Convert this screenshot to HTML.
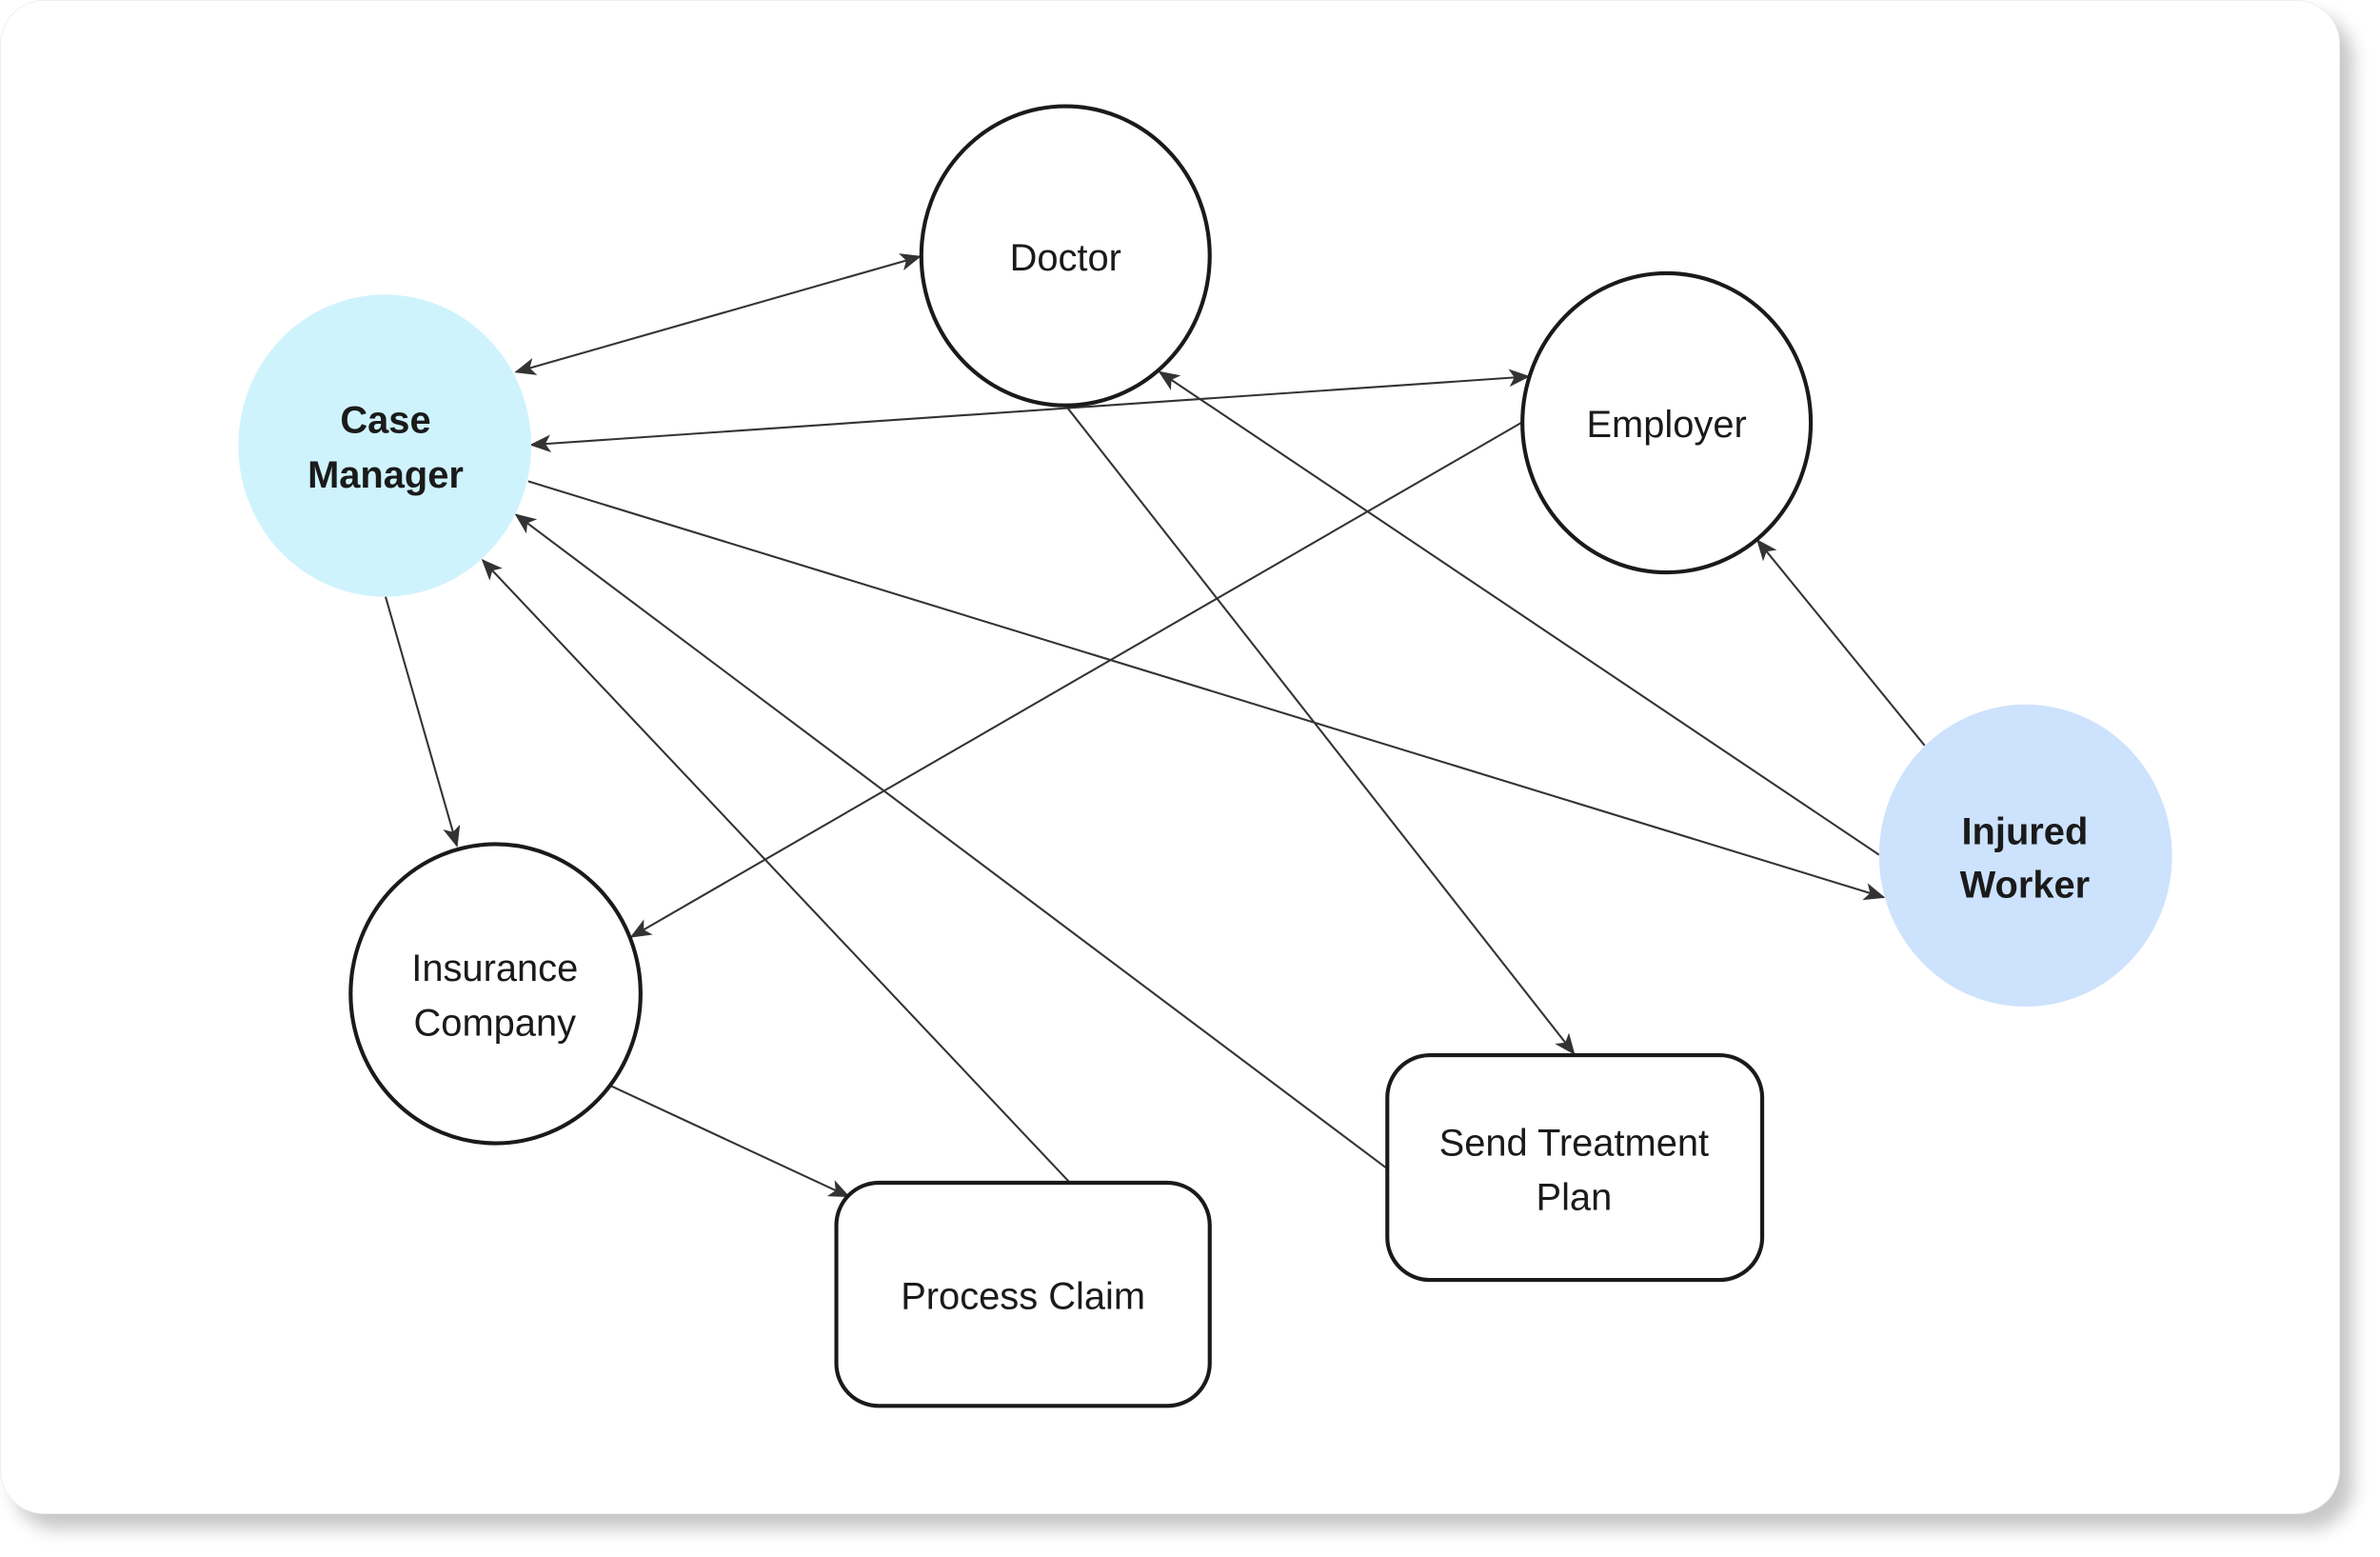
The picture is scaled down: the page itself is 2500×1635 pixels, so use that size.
<!DOCTYPE html>
<html><head><meta charset="utf-8"><style>
html,body{margin:0;padding:0;background:#fff;}
body{width:2500px;height:1635px;position:relative;overflow:hidden;}
.card{position:absolute;left:0;top:0;width:2458px;height:1590px;background:#fff;border-radius:46px;box-shadow:14px 16px 18px rgba(0,0,0,0.22);border:1px solid #eee;box-sizing:border-box;}
svg{position:absolute;left:0;top:0;}
text{font-family:"Liberation Sans","DejaVu Sans",sans-serif;fill:#1a1a1a;font-size:25px;text-anchor:middle;}
.b{font-weight:bold;}
</style></head><body>
<div class="card"></div>
<svg width="2500" height="1635" viewBox="0 0 1568 1025.5">
<defs>
<marker id="a" markerUnits="userSpaceOnUse" markerWidth="14" markerHeight="12" refX="11" refY="5" orient="auto-start-reverse" viewBox="0 0 12 10">
<path d="M0,0 L12,5 L0,10 L3,5 Z" fill="#333"/>
</marker>
</defs>
<g stroke="#333" stroke-width="1.3" fill="none">
<line x1="340" y1="245" x2="606" y2="169" marker-start="url(#a)" marker-end="url(#a)"/>
<line x1="350" y1="293" x2="1007" y2="248" marker-start="url(#a)" marker-end="url(#a)"/>
<line x1="348" y1="317" x2="1241" y2="591" marker-end="url(#a)"/>
<line x1="254" y1="393" x2="301" y2="557" marker-end="url(#a)"/>
<line x1="704" y1="778" x2="318" y2="369" marker-end="url(#a)"/>
<line x1="913" y1="769" x2="340" y2="339" marker-end="url(#a)"/>
<line x1="702" y1="267" x2="1037" y2="694" marker-end="url(#a)"/>
<line x1="1003" y1="278" x2="416" y2="617" marker-end="url(#a)"/>
<line x1="1238" y1="563" x2="764" y2="245" marker-end="url(#a)"/>
<line x1="1268" y1="491" x2="1158" y2="356" marker-end="url(#a)"/>
<line x1="402" y1="715" x2="559" y2="788" marker-end="url(#a)"/>
</g>
<g stroke="#1a1a1a" stroke-width="2.6">
<ellipse cx="702" cy="168.5" rx="95" ry="98.5" fill="#fff"/>
<ellipse cx="1098" cy="278.5" rx="95" ry="98.5" fill="#fff"/>
<ellipse cx="326.5" cy="654.5" rx="95.5" ry="98.5" fill="#fff"/>
<rect x="551" y="779" width="246" height="147" rx="28" fill="#fff"/>
<rect x="914" y="695" width="247" height="148" rx="28" fill="#fff"/>
</g>
<ellipse cx="253.5" cy="293.5" rx="96.5" ry="99.5" fill="#cff3fd"/>
<ellipse cx="1334.5" cy="563.5" rx="96.5" ry="99.5" fill="#cde2fd"/>
<text x="702" y="178">Doctor</text>
<text x="1098" y="288">Employer</text>
<text class="b" x="254" y="285">Case</text>
<text class="b" x="254" y="321">Manager</text>
<text class="b" x="1334" y="556">Injured</text>
<text class="b" x="1334" y="591">Worker</text>
<text x="326" y="646">Insurance</text>
<text x="326" y="682">Company</text>
<text x="674" y="862">Process Claim</text>
<text x="1037" y="761">Send Treatment</text>
<text x="1037" y="797">Plan</text>
</svg>
</body></html>
